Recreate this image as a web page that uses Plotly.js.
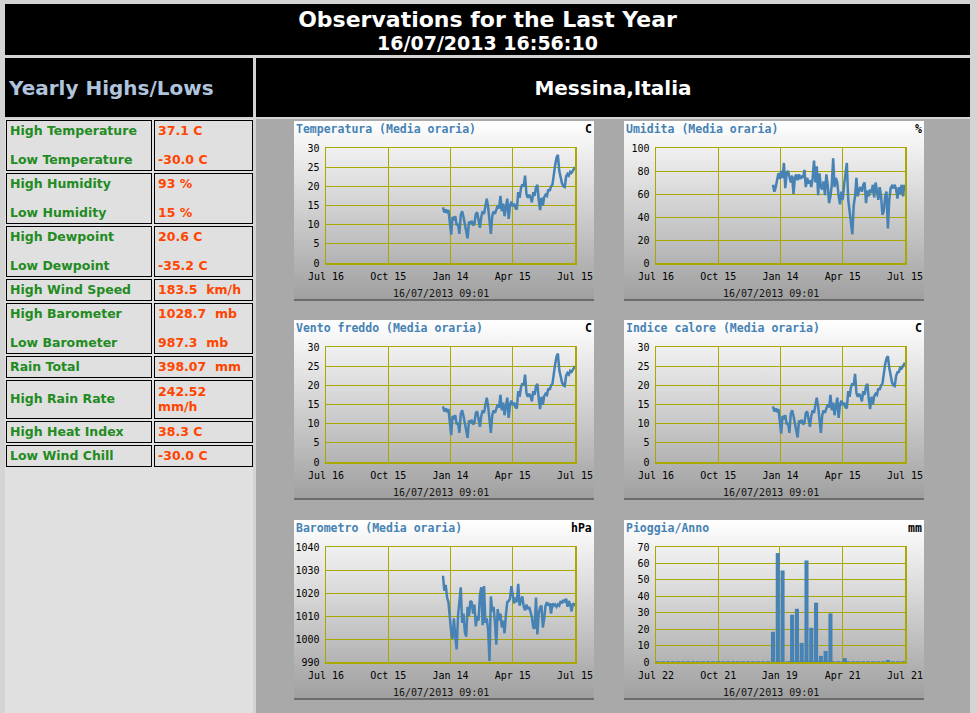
<!DOCTYPE html>
<html>
<head>
<meta charset="utf-8">
<script src="https://cdn.plot.ly/plotly-3.0.1.min.js"></script>
<style>
html,body{margin:0;padding:0;}
body{width:977px;height:713px;overflow:hidden;background:#d4d4d4;position:relative;font-family:'DejaVu Sans',Verdana,sans-serif;}
.blk{position:absolute;background:#000;color:#fff;font-weight:bold;}
#hdr{left:5px;top:4px;width:965px;height:51px;text-align:center;}
#hdr .t1{font-size:22px;line-height:24px;padding-top:4px;}
#hdr .t2{font-size:19px;line-height:22px;}
#yh{left:5px;top:58px;width:244px;height:59px;color:#b0c4de;font-size:20px;display:flex;align-items:center;padding-left:4px;}
#loc{left:256px;top:58px;width:714px;height:59px;font-size:20px;display:flex;align-items:center;justify-content:center;}
#leftcol{position:absolute;left:5px;top:119px;width:248px;height:600px;background:#e0e0e0;}
#rightcol{position:absolute;left:256px;top:119px;width:714px;height:600px;background:#a9a9a9;}
#stats{position:absolute;left:4px;top:117.5px;border-collapse:separate;border-spacing:2px;table-layout:fixed;}
#stats td{border:1px solid #000;padding:3px 3px 2.4px 3px;line-height:14.6px;font-size:12.5px;font-weight:bold;white-space:pre-wrap;vertical-align:middle;}
#stats tr.tall td{padding-top:4px;padding-bottom:3.4px;}
#stats td.lb{width:138px;color:#228b22;}
#stats td.vl{width:91px;color:#ff4500;}
.chart{position:absolute;width:300px;height:178px;background:linear-gradient(#ffffff,#a0a0a0);border-bottom:2px solid #6c6c6c;}
</style>
</head>
<body>
<div id="hdr" class="blk"><div class="t1">Observations for the Last Year</div><div class="t2">16/07/2013 16:56:10</div></div>
<div id="yh" class="blk">Yearly Highs/Lows</div>
<div id="loc" class="blk">Messina,Italia</div>
<div id="leftcol"></div>
<div id="rightcol"></div>
<table id="stats"></table>
<div id="c1" class="chart" style="left:294px;top:121px;"></div>
<div id="c2" class="chart" style="left:624px;top:121px;"></div>
<div id="c3" class="chart" style="left:294px;top:320px;"></div>
<div id="c4" class="chart" style="left:624px;top:320px;"></div>
<div id="c5" class="chart" style="left:294px;top:520px;"></div>
<div id="c6" class="chart" style="left:624px;top:520px;"></div>
<script>
// ---------- data ----------
const statLabels = ['High Temperature\n\nLow Temperature','High Humidity\n\nLow Humidity','High Dewpoint\n\nLow Dewpoint','High Wind Speed','High Barometer\n\nLow Barometer','Rain Total','High Rain Rate','High Heat Index','Low Wind Chill'];
const statValues = ['37.1 C\n\n-30.0 C','93 %\n\n15 %','20.6 C\n\n-35.2 C','183.5  km/h','1028.7  mb\n\n987.3  mb','398.07  mm','242.52  mm/h','38.3 C','-30.0 C'];

const xTickVals = ['2012-07-16','2012-10-15','2013-01-14','2013-04-15','2013-07-15'];
const xTickText = ['Jul 16','Oct 15','Jan 14','Apr 15','Jul 15'];
const rainTickVals = ['2012-07-22','2012-10-21','2013-01-19','2013-04-21','2013-07-21'];
const rainTickText = ['Jul 22','Oct 21','Jan 19','Apr 21','Jul 21'];

const dates = [
'2013-01-03','2013-01-05','2013-01-07','2013-01-09','2013-01-11','2013-01-13','2013-01-15','2013-01-17','2013-01-19','2013-01-21','2013-01-23','2013-01-25','2013-01-27','2013-01-29','2013-01-31',
'2013-02-02','2013-02-04','2013-02-06','2013-02-08','2013-02-10','2013-02-12','2013-02-14','2013-02-16','2013-02-18','2013-02-20','2013-02-22','2013-02-24','2013-02-26','2013-02-28',
'2013-03-02','2013-03-04','2013-03-06','2013-03-08','2013-03-10','2013-03-12','2013-03-14','2013-03-16','2013-03-18','2013-03-20','2013-03-22','2013-03-24','2013-03-26','2013-03-28','2013-03-30',
'2013-04-01','2013-04-03','2013-04-05','2013-04-07','2013-04-09','2013-04-11','2013-04-13','2013-04-15','2013-04-17','2013-04-19','2013-04-21','2013-04-23','2013-04-25','2013-04-27','2013-04-29',
'2013-05-01','2013-05-03','2013-05-05','2013-05-07','2013-05-09','2013-05-11','2013-05-13','2013-05-15','2013-05-17','2013-05-19','2013-05-21','2013-05-23','2013-05-25','2013-05-27','2013-05-29','2013-05-31',
'2013-06-02','2013-06-04','2013-06-06','2013-06-08','2013-06-10','2013-06-12','2013-06-14','2013-06-16','2013-06-18','2013-06-20','2013-06-22','2013-06-24','2013-06-26','2013-06-28','2013-06-30',
'2013-07-02','2013-07-04','2013-07-06','2013-07-08','2013-07-10','2013-07-12','2013-07-14','2013-07-15'];

const temperatura = [
14.5,13.2,14.0,13.0,13.8,10.5,7.4,12.0,11.5,12.2,9.8,10.2,7.6,12.5,13.5,
12.0,10.0,8.5,6.4,10.8,10.2,11.0,9.8,10.2,12.8,13.2,10.5,9.2,12.0,
13.5,12.8,14.8,16.8,14.6,11.5,7.6,12.2,13.5,12.8,14.0,15.0,14.2,17.5,13.5,
15.5,12.2,15.0,16.8,11.5,15.0,16.0,14.8,15.5,14.3,14.0,18.5,17.0,19.5,20.5,
20.0,22.8,18.0,17.0,17.8,17.2,15.8,18.5,17.5,19.8,20.4,16.5,13.8,17.0,15.0,17.2,
17.8,17.5,19.2,18.8,20.0,20.4,23.5,25.5,27.5,28.2,24.0,22.0,20.8,20.0,19.8,
22.5,23.2,22.8,23.8,23.5,24.2,24.5,25.0];

const umidita = [
68,62,66,72,78,73,80,74,87,65,78,80,74,70,76,
60,74,77,72,77,73,76,74,81,66,74,69,72,66,
74,89,70,84,59,78,66,64,71,59,77,68,52,58,68,
91,66,74,70,58,51,62,55,68,80,87,55,45,35,25,
50,58,74,58,64,66,62,68,70,52,63,58,64,61,68,57,
70,64,55,66,58,42,45,58,62,30,55,65,67,65,68,
64,56,66,60,68,58,68,64];

const ventoFreddo = [
14.5,13.2,14.0,13.0,13.8,10.5,7.0,12.0,11.5,12.2,9.8,10.2,7.6,12.5,13.5,
12.0,10.0,8.5,6.3,10.8,10.2,11.0,9.8,10.2,12.8,13.2,10.5,9.2,12.0,
13.5,12.8,14.8,16.8,14.6,11.5,7.6,12.2,13.5,12.8,14.0,15.0,14.2,17.5,13.5,
15.5,12.2,15.0,16.8,11.5,15.0,16.0,14.8,15.5,14.3,14.0,18.5,17.0,19.5,20.5,
20.0,22.8,18.0,17.0,17.8,17.2,15.8,18.5,17.5,19.8,20.4,16.5,13.8,17.0,15.0,17.2,
17.8,17.5,19.2,18.8,20.0,20.4,23.5,25.5,27.5,28.3,24.0,22.0,20.8,20.0,19.8,
22.5,23.2,22.8,23.8,23.5,24.2,24.5,25.0];

const indiceCalore = [
14.5,13.2,14.0,13.0,13.8,10.5,7.4,12.0,11.5,12.2,9.8,10.2,7.6,12.5,13.5,
12.0,10.0,8.5,6.4,10.8,10.2,11.0,9.8,10.2,12.8,13.2,10.5,9.2,12.0,
13.5,12.8,14.8,16.8,14.6,11.5,7.6,12.2,13.5,12.8,14.0,15.0,14.2,17.5,13.5,
15.5,12.2,15.0,16.8,11.5,15.0,16.0,14.8,15.5,14.3,14.0,18.5,17.0,19.5,20.5,
20.0,23.0,18.0,17.0,17.8,17.2,15.8,18.5,17.5,19.8,20.4,16.5,13.8,17.0,15.0,17.2,
17.8,17.5,19.2,18.8,20.0,20.4,23.8,25.5,27.0,27.6,24.5,22.0,20.8,20.0,19.8,
22.5,23.4,23.5,24.6,24.4,24.9,25.4,25.9];

const barometro = [
1027.5,1021,1023.5,1018,1016,1009,1003,1000,1009,1001,995.5,1010,1016.5,1022.5,1007,
1011,1003,1001,1014,1010,1016.5,1016,1011,1015,1005.5,1010,1008,1019,1022.5,
1006,1023,1007,1009,1004,990.5,1018.5,1012,1014,1007,997.5,1013,1008,1011,1005,
1008,1002.5,1010.5,1016,1016.5,1017.5,1023,1019.5,1015.5,1018,1016,1024,1014.5,1016.5,1018.5,
1014,1012.5,1015,1013,1014,1012,1009.5,1005,1004.5,1018,1002,1011,1013.8,1014.5,1005,1009,
1014.5,1016,1014.5,1015.5,1011,1015.5,1014.5,1015,1014,1015,1014.5,1016.5,1015.5,1017,1016,
1017.5,1014,1016.5,1015,1012,1015.5,1015,1015.5];

const rainWeeks = ['2013-01-09','2013-01-16','2013-01-23','2013-01-30','2013-02-06','2013-02-13','2013-02-20','2013-02-27','2013-03-06','2013-03-13','2013-03-20','2013-03-27','2013-04-03','2013-04-10','2013-04-17','2013-04-24','2013-06-26'];
const rainMM = [18.4,66.3,55.7,0,28.8,32.4,11.6,61.8,20.8,36.1,3.7,6.7,29.6,0,0,2.4,1.2];

// ---------- stats table ----------
const tbl = document.getElementById('stats');
statLabels.forEach((lab, i) => {
  const tr = document.createElement('tr');
  if (statValues[i].length > 11 && lab.indexOf('\n') < 0) tr.className = 'tall';
  const a = document.createElement('td'); a.className = 'lb'; a.textContent = lab;
  const b = document.createElement('td'); b.className = 'vl'; b.textContent = statValues[i];
  tr.appendChild(a); tr.appendChild(b); tbl.appendChild(tr);
});

// ---------- charts ----------
const BLUE = '#4682b4', GRID = '#a8a800', MONO = 'DejaVu Sans Mono';
function axisBase() {
  return {showgrid:true, gridcolor:GRID, gridwidth:1, zeroline:false, showline:true, linecolor:GRID, linewidth:1.5, mirror:true,
          ticks:'outside', ticklen:3, tickcolor:'rgba(0,0,0,0)', tickfont:{family:MONO, size:10, color:'#000'}, fixedrange:true};
}
function makeChart(id, title, unit, traces, yrange, dtick, tv, tt, shapes) {
  const xa = Object.assign(axisBase(), {type:'date', range:[tv[0], tv[tv.length-1]], tickmode:'array', tickvals:tv, ticktext:tt});
  const ya = Object.assign(axisBase(), {range:yrange, dtick:dtick, tick0:yrange[0]});
  const layout = {
    width:300, height:178, margin:{l:32, r:19, t:27, b:36, pad:0},
    paper_bgcolor:'rgba(0,0,0,0)', plot_bgcolor:'rgba(0,0,0,0)', showlegend:false,
    xaxis:xa, yaxis:ya, bargap:0.15, shapes:shapes || [],
    annotations:[
      {xref:'paper', yref:'paper', x:-0.1285, y:1.165, xanchor:'left', yanchor:'middle', showarrow:false,
       text:'<b>'+title+'</b>', font:{family:MONO, size:11.5, color:BLUE}},
      {xref:'paper', yref:'paper', x:1.078, y:1.165, xanchor:'right', yanchor:'middle', showarrow:false,
       text:'<b>'+unit+'</b>', font:{family:MONO, size:11.5, color:'#000'}},
      {xref:'paper', yref:'paper', x:0.463, y:-0.267, xanchor:'center', yanchor:'middle', showarrow:false,
       text:'16/07/2013 09:01', font:{family:MONO, size:10, color:'#111'}}
    ]
  };
  Plotly.newPlot(id, traces, layout, {staticPlot:true, displayModeBar:false});
}
function line(y) { return {type:'scatter', mode:'lines', x:dates, y:y, line:{color:BLUE, width:2.5}}; }

makeChart('c1', 'Temperatura (Media oraria)', 'C', [line(temperatura)], [0,30], 5, xTickVals, xTickText);
makeChart('c2', 'Umidita (Media oraria)', '%', [line(umidita)], [0,100], 20, xTickVals, xTickText);
makeChart('c3', 'Vento freddo (Media oraria)', 'C', [line(ventoFreddo)], [0,30], 5, xTickVals, xTickText);
makeChart('c4', 'Indice calore (Media oraria)', 'C', [line(indiceCalore)], [0,30], 5, xTickVals, xTickText);
makeChart('c5', 'Barometro (Media oraria)', 'hPa', [line(barometro)], [990,1040], 10, xTickVals, xTickText);
makeChart('c6', 'Pioggia/Anno', 'mm',
  [{type:'bar', x:rainWeeks, y:rainMM, marker:{color:BLUE, line:{width:0}}}],
  [0,70], 10, rainTickVals, rainTickText,
  [{type:'line', xref:'paper', x0:0, x1:1, yref:'y', y0:0, y1:0, line:{color:BLUE, width:1.5, dash:'4px,1px'}}]);
</script>
</body>
</html>
